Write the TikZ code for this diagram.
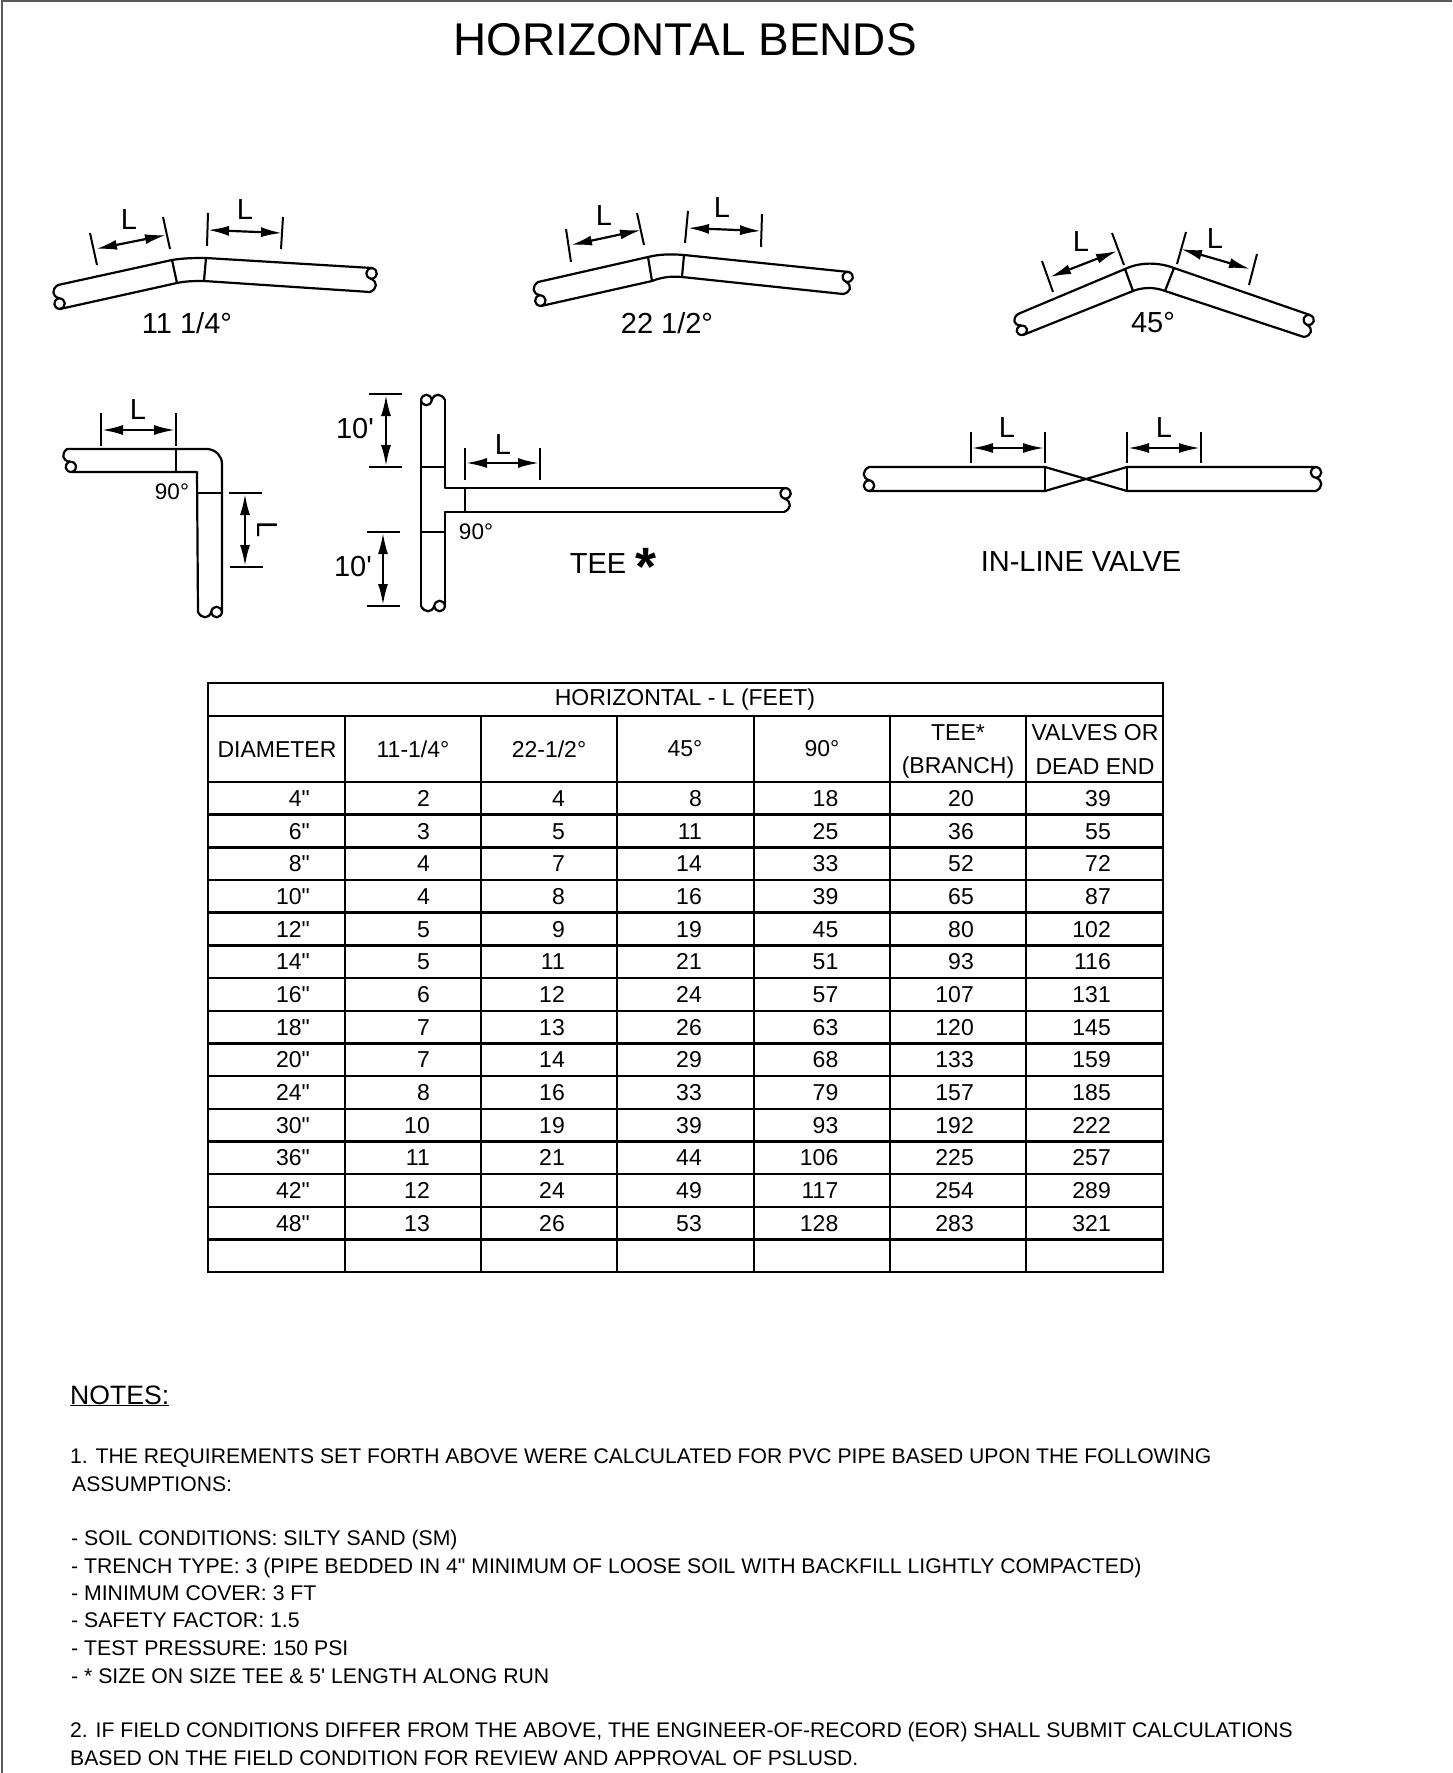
\documentclass[tikz,border=0pt]{standalone}
\usepackage{fontspec}
\setmainfont{Liberation Sans}[Ligatures=TeXOff]
\usetikzlibrary{arrows.meta,calc}
\tikzset{
 pipe/.style={line width=2.2pt,black,line join=round,line cap=round},
 thin ext/.style={line width=2pt,black},
 dimn/.style={line width=2.2pt,black,{Latex[length=21pt,width=10pt]}-{Latex[length=21pt,width=10pt]},shorten >=0pt,shorten <=0pt},
 lab/.style={inner sep=0pt,font=\fontsize{29}{29}\selectfont},
 smlab/.style={inner sep=0pt,font=\fontsize{22.5}{22.5}\selectfont},
 cell/.style={inner sep=0pt,font=\fontsize{23}{23}\selectfont},
 note/.style={inner sep=0pt,anchor=base west,font=\fontsize{21.15}{21.15}\selectfont},
 notelist/.style={note,font=\fontsize{21.22}{21.22}\selectfont},
 grid/.style={line width=2.4pt,black}
}
% pipe break: from point A to point B, outer S-curve on side given by the length, then a lens
\newcommand{\pbrk}[3]{%
 \draw[pipe] (#1) .. controls ($(#1)!.15!(#2)!-#3!90:(#2)$) and ($(#1)!.45!(#2)!-#3!90:(#2)$) .. ($(#1)!.55!(#2)$);
 \draw[pipe] ($(#1)!.55!(#2)$) .. controls ($(#1)!.6!(#2)!-#3!90:(#2)$) and ($(#1)!.95!(#2)!-#3!90:(#2)$) .. (#2);
 \draw[pipe] ($(#1)!.55!(#2)$) .. controls ($(#1)!.6!(#2)!#3!90:(#2)$) and ($(#1)!.95!(#2)!#3!90:(#2)$) .. (#2);
}
\newcommand{\dimL}[6]{% ext1a ext1b ext2a ext2b arr1 arr2 as coordinates
 \draw[thin ext] #1 -- #2;
 \draw[thin ext] #3 -- #4;
 \coordinate (dA) at #5; \coordinate (dB) at #6;
 \draw[dimn] (dA) -- (dB);
}
\begin{document}
\begin{tikzpicture}[x=1pt,y=-1pt]
\useasboundingbox (0,0) rectangle (1452,1773);
\fill[white] (0,0) rectangle (1452,1773);
\draw[line width=2pt,black!65] (2,1773) -- (2,1) -- (1452,1);
\node[inner sep=0pt,font=\fontsize{45.9}{45.9}\selectfont] (title) at (685,40) {HORIZONTAL BENDS};

% ---- 11 1/4
\coordinate (a1) at (58,285); \coordinate (a2) at (60,309);
\coordinate (a3) at (372,268); \coordinate (a4) at (370,292);
\draw[pipe] (a1) -- (172,260) .. controls (184,258) and (195,258) .. (206,258) -- (a3);
\draw[pipe] (a2) -- (177,283) .. controls (186,281) and (195,281) .. (204,281) -- (a4);
\draw[pipe] (172,260) -- (177,283);
\draw[pipe] (206,258) -- (204,281);
\pbrk{a1}{a2}{7pt}
\pbrk{a4}{a3}{7pt}
\dimL{(90,233)}{(97,265)}{(163,217)}{(170,249)}{(96,249)}{(166,235)}
\dimL{(208,213)}{(207,246)}{(283,217)}{(281,249)}{(208,230)}{(282,233)}
\node[lab] (L1) at (129,220) {L};
\node[lab] (L2) at (245,210) {L};
\node[lab] (t1) at (187,323) {11 1/4°};

% ---- 22 1/2
\coordinate (b1) at (538,282); \coordinate (b2) at (541,306);
\coordinate (b3) at (849,272); \coordinate (b4) at (843,294);
\draw[pipe] (b1) -- (648,257) .. controls (660,254) and (672,254) .. (684,255) -- (b3);
\draw[pipe] (b2) -- (652,281) .. controls (662,277) and (672,276) .. (682,277) -- (b4);
\draw[pipe] (648,257) -- (652,281);
\draw[pipe] (684,255) -- (682,277);
\pbrk{b1}{b2}{7pt}
\pbrk{b4}{b3}{7pt}
\dimL{(566,229)}{(571,262)}{(637,213)}{(644,245)}{(571,245)}{(641,230)}
\dimL{(688,211)}{(685,243)}{(762,214)}{(761,247)}{(688,228)}{(761,231)}
\node[lab] (L3) at (604,216) {L};
\node[lab] (L4) at (722,208) {L};
\node[lab] (t2) at (667,323) {22 1/2°};

% ---- 45
\coordinate (c1) at (1018,314); \coordinate (c2) at (1023,335);
\coordinate (c3) at (1310,315); \coordinate (c4) at (1304,337);
\draw[pipe] (c1) -- (1125,269) .. controls (1140,262) and (1158,262) .. (1174,268) -- (c3);
\draw[pipe] (c2) -- (1133,291) .. controls (1143,287) and (1155,287) .. (1165,291) -- (c4);
\draw[pipe] (1125,269) -- (1133,291);
\draw[pipe] (1174,268) -- (1165,291);
\pbrk{c1}{c2}{7pt}
\pbrk{c4}{c3}{7pt}
\dimL{(1042,261)}{(1053,292)}{(1112,233)}{(1124,265)}{(1050,277)}{(1117,251)}
\dimL{(1186,232)}{(1177,264)}{(1257,254)}{(1249,285)}{(1181,249)}{(1250,269)}
\node[lab] (L5) at (1081,242) {L};
\node[lab] (L6) at (1215,239) {L};
\node[lab] (t3) at (1153,323) {45°};

% ---- 90
\coordinate (d1) at (67,449); \coordinate (d2) at (72,472);
\coordinate (d3) at (222,612); \coordinate (d4) at (198,612);
\draw[pipe] (d1) -- (208,449) .. controls (216,450) and (222,456) .. (222,464) -- (d3);
\draw[pipe] (d2) -- (197,472) -- (d4);
\draw[pipe] (176,449) -- (176,472);
\draw[pipe] (197,493) -- (222,493);
\pbrk{d1}{d2}{7pt}
\pbrk{d4}{d3}{7pt}
\dimL{(101,413)}{(101,446)}{(176,413)}{(176,446)}{(102,430)}{(175,430)}
\dimL{(229,493)}{(262,493)}{(230,567)}{(263,567)}{(245,494)}{(245,566)}
\node[lab] (L7) at (138,410) {L};
\node[lab,rotate=-90] (L8) at (267,530) {L};
\node[smlab] (t4) at (172,492) {90°};

% ---- TEE
\coordinate (e1) at (421,400); \coordinate (e2) at (445,400);
\coordinate (e3) at (421,606); \coordinate (e4) at (445,606);
\coordinate (e5) at (786,488); \coordinate (e6) at (784,512);
\draw[pipe] (e1) -- (e3);
\draw[pipe] (e2) -- (445,488) -- (e5);
\draw[pipe] (e4) -- (445,512) -- (e6);
\draw[pipe] (421,467) -- (445,467);
\draw[pipe] (421,532) -- (445,532);
\draw[pipe] (465,488) -- (465,512);
\pbrk{e2}{e1}{7pt}
\pbrk{e3}{e4}{7pt}
\pbrk{e6}{e5}{7pt}
\dimL{(369,394)}{(402,394)}{(369,467)}{(402,467)}{(386,395)}{(386,466)}
\dimL{(367,532)}{(400,532)}{(367,606)}{(400,606)}{(383,533)}{(383,605)}
\dimL{(465,448)}{(465,480)}{(540,448)}{(540,480)}{(466,463)}{(539,463)}
\node[lab] (t5) at (355,429) {10'};
\node[lab] (t6) at (353,567) {10'};
\node[lab] (L9) at (503,445) {L};
\node[smlab] (t7) at (476,532) {90°};
\node[lab] (t8) at (598,564) {TEE};
\node[inner sep=0pt,font=\fontsize{54}{54}\selectfont\bfseries] (t9) at (646,567) {*};

% ---- VALVE
\coordinate (f1) at (869,467); \coordinate (f2) at (869,491);
\coordinate (f3) at (1316,467); \coordinate (f4) at (1316,491);
\draw[pipe] (f1) -- (1045,467) -- (1127,491) -- (f4);
\draw[pipe] (f2) -- (1045,491) -- (1127,467) -- (f3);
\draw[pipe] (1045,467) -- (1045,491);
\draw[pipe] (1127,467) -- (1127,491);
\pbrk{f1}{f2}{7pt}
\pbrk{f4}{f3}{7pt}
\dimL{(971,432)}{(971,463)}{(1045,432)}{(1045,463)}{(972,448)}{(1044,448)}
\dimL{(1127,432)}{(1127,463)}{(1201,432)}{(1201,463)}{(1128,448)}{(1200,448)}
\node[lab] (L10) at (1007,428) {L};
\node[lab] (L11) at (1164,428) {L};
\node[lab] (t10) at (1081,562) {IN-LINE VALVE};

% ---- TABLE
\draw[grid] (208,683) rectangle (1163,1272);
\draw[grid] (208,716) -- (1163,716);
\foreach \yy in {0,...,14}{\draw[grid] (208,{782+\yy*32.67}) -- (1163,{782+\yy*32.67});}
\foreach \xx in {345,481,617,754,890,1026}{\draw[grid] (\xx,716) -- (\xx,1272);}
\node[cell] (h0) at (685,700) {HORIZONTAL - L (FEET)};
\node[cell] (h1) at (277,750) {DIAMETER};
\node[cell] (h2) at (413,749) {11-1/4°};
\node[cell] (h3) at (549,749) {22-1/2°};
\node[cell] (h4) at (685,749) {45°};
\node[cell] (h5) at (822,749) {90°};
\node[cell] (h6) at (958,733) {TEE*};
\node[cell] (h7) at (958,768) {(BRANCH)};
\node[cell] (h8) at (1095,733) {VALVES OR};
\node[cell] (h9) at (1095,767) {DEAD END};
\foreach \d/\a/\b/\c/\e/\f/\g [count=\r from 0] in {
 4/2/4/8/18/20/39,6/3/5/11/25/36/55,8/4/7/14/33/52/72,10/4/8/16/39/65/87,12/5/9/19/45/80/102,
 14/5/11/21/51/93/116,16/6/12/24/57/107/131,18/7/13/26/63/120/145,20/7/14/29/68/133/159,
 24/8/16/33/79/157/185,30/10/19/39/93/192/222,36/11/21/44/106/225/257,42/12/24/49/117/254/289,48/13/26/53/128/283/321}{
 \pgfmathsetmacro{\yb}{782+\r*32.67+24.5}
 \node[cell,anchor=base east] (r\r d) at (310,\yb) {\d"};
 \node[cell,anchor=base east] (r\r a) at (430,\yb) {\a};
 \node[cell,anchor=base east] (r\r b) at (565,\yb) {\b};
 \node[cell,anchor=base east] (r\r c) at (702,\yb) {\c};
 \node[cell,anchor=base east] (r\r e) at (838.5,\yb) {\e};
 \node[cell,anchor=base east] (r\r f) at (974,\yb) {\f};
 \node[cell,anchor=base east] (r\r g) at (1111,\yb) {\g};
}

% ---- NOTES
\node[note,font=\fontsize{26.6}{26.6}\selectfont] (n0) at (70,1404) {\underline{NOTES:}};
\node[note] (n1) at (70,1463.5) {1. THE REQUIREMENTS SET FORTH ABOVE WERE CALCULATED FOR PVC PIPE BASED UPON THE FOLLOWING};
\node[note] (n2) at (72,1491.5) {ASSUMPTIONS:};
\node[notelist] (n3) at (71,1545.5) {- SOIL CONDITIONS: SILTY SAND (SM)};
\node[notelist] (n4) at (71,1573) {- TRENCH TYPE: 3 (PIPE BEDDED IN 4" MINIMUM OF LOOSE SOIL WITH BACKFILL LIGHTLY COMPACTED)};
\node[notelist] (n5) at (71,1600) {- MINIMUM COVER: 3 FT};
\node[notelist] (n6) at (71,1627.5) {- SAFETY FACTOR: 1.5};
\node[notelist] (n7) at (71,1655.5) {- TEST PRESSURE: 150 PSI};
\node[notelist] (n8) at (71,1683) {- * SIZE ON SIZE TEE \& 5' LENGTH ALONG RUN};
\node[note] (n9) at (70,1737.5) {2. IF FIELD CONDITIONS DIFFER FROM THE ABOVE, THE ENGINEER-OF-RECORD (EOR) SHALL SUBMIT CALCULATIONS};
\node[note] (n10) at (70,1765) {BASED ON THE FIELD CONDITION FOR REVIEW AND APPROVAL OF PSLUSD.};
\end{tikzpicture}
\end{document}
